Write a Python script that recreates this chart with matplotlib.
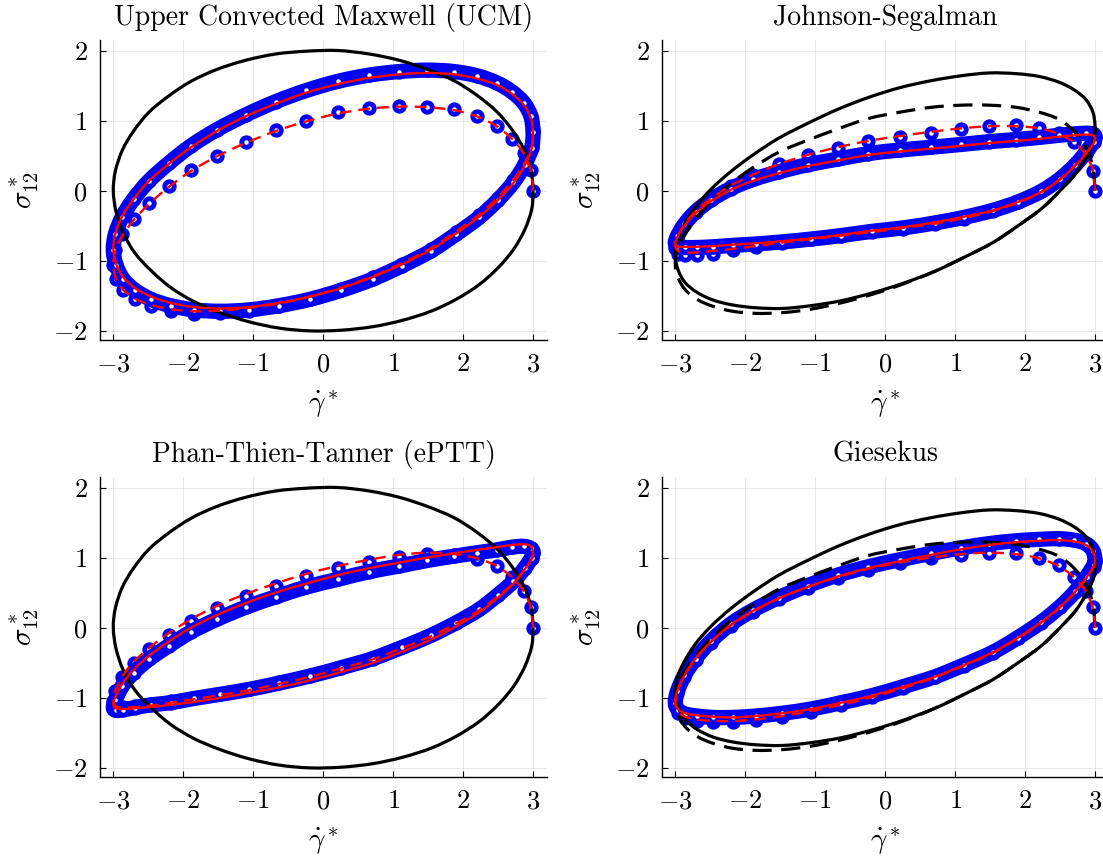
import matplotlib
matplotlib.use("Agg")
import matplotlib.pyplot as plt
from matplotlib.path import Path
from matplotlib.patches import PathPatch

plt.rcParams['font.family'] = 'serif'
plt.rcParams['font.serif'] = ['cmr10', 'DejaVu Serif']
plt.rcParams['mathtext.fontset'] = 'cm'
plt.rcParams['axes.formatter.use_mathtext'] = True
plt.rcParams['axes.unicode_minus'] = True

# strain-rate samples (one per marker, same grid for every series)
gamma_dot = [3.00, 2.97, 2.87, 2.70, 2.48, 2.20, 1.87, 1.49, 1.09, 0.66, 0.21, -0.24, -0.68, -1.11,
             -1.52, -1.89, -2.21, -2.49, -2.71, -2.87, -2.97, -3.00, -2.96, -2.86, -2.69, -2.46,
             -2.18, -1.85, -1.47, -1.06, -0.63, -0.19, 0.26, 0.71, 1.13, 1.54, 1.90, 2.23, 2.50,
             2.72, 2.88, 2.98, 3.00]

# reference curves (black)
newtonian = [0.00, 0.30, 0.59, 0.87, 1.13, 1.36, 1.57, 1.73, 1.86, 1.95, 2.00, 1.99, 1.95, 1.86, 1.73,
             1.56, 1.35, 1.12, 0.85, 0.58, 0.28, 0.00, -0.30, -0.60, -0.89, -1.14, -1.38, -1.58,
             -1.74, -1.87, -1.96, -2.00, -1.99, -1.94, -1.85, -1.72, -1.55, -1.34, -1.10, -0.84,
             -0.56, -0.27, 0.00]
ucm_ref = [0.92, 1.12, 1.30, 1.44, 1.55, 1.63, 1.67, 1.68, 1.64, 1.57, 1.47, 1.33, 1.16, 0.96, 0.75,
           0.51, 0.27, 0.02, -0.23, -0.48, -0.71, -0.93, -1.13, -1.31, -1.45, -1.56, -1.63, -1.67,
           -1.68, -1.64, -1.57, -1.46, -1.32, -1.15, -0.95, -0.74, -0.50, -0.26, 0.00, 0.24, 0.49,
           0.72, 0.92]
ucm_ref_start = [0.00, 0.33, 0.62, 0.85, 1.02, 1.12, 1.19, 1.22, 1.22, 1.19, 1.12, 1.03, 0.88, 0.72,
                 0.55, 0.33, 0.10, -0.15, -0.40, -0.63, -0.85, -1.05, -1.24, -1.41, -1.55, -1.65,
                 -1.72, -1.75, -1.74, -1.69, -1.60, -1.48, -1.33, -1.15, -0.95, -0.74, -0.50, -0.26,
                 0.00, 0.24, 0.49, 0.72, 0.92]

# Upper Convected Maxwell
ucm_data_start = [0.00, 0.29, 0.54, 0.74, 0.93, 1.07, 1.17, 1.20, 1.21, 1.18, 1.12, 1.00, 0.86, 0.70,
                  0.50, 0.29, 0.06, -0.18, -0.40, -0.62, -0.85, -1.06, -1.26, -1.42, -1.55, -1.65,
                  -1.72, -1.76, -1.75, -1.71, -1.64, -1.54, -1.40, -1.23, -1.04, -0.83, -0.59, -0.35,
                  -0.10, 0.15, 0.40, 0.64, 0.86]
ucm_data_cycle = [0.84, 1.06, 1.25, 1.41, 1.54, 1.64, 1.70, 1.72, 1.70, 1.65, 1.56, 1.43, 1.27, 1.08,
                  0.87, 0.64, 0.39, 0.14, -0.12, -0.37, -0.62, -0.85, -1.06, -1.26, -1.42, -1.55,
                  -1.64, -1.70, -1.72, -1.70, -1.64, -1.55, -1.42, -1.26, -1.07, -0.86, -0.62, -0.38,
                  -0.13, 0.12, 0.37, 0.61, 0.84]
ucm_fit_start = [0.00, 0.28, 0.53, 0.74, 0.92, 1.06, 1.15, 1.19, 1.20, 1.17, 1.10, 0.99, 0.85, 0.68,
                 0.49, 0.28, 0.05, -0.19, -0.42, -0.64, -0.86, -1.06, -1.25, -1.41, -1.54, -1.63,
                 -1.69, -1.72, -1.71, -1.67, -1.61, -1.51, -1.38, -1.22, -1.03, -0.82, -0.58, -0.34,
                 -0.09, 0.16, 0.40, 0.63, 0.84]
ucm_fit_cycle = [0.82, 1.03, 1.22, 1.38, 1.51, 1.60, 1.66, 1.68, 1.66, 1.61, 1.52, 1.40, 1.24, 1.06,
                 0.85, 0.62, 0.38, 0.14, -0.12, -0.36, -0.61, -0.83, -1.04, -1.23, -1.39, -1.51,
                 -1.60, -1.66, -1.68, -1.66, -1.60, -1.51, -1.39, -1.23, -1.05, -0.84, -0.61, -0.37,
                 -0.13, 0.11, 0.36, 0.60, 0.82]

# Johnson-Segalman
js_data_start = [0.00, 0.28, 0.52, 0.70, 0.82, 0.90, 0.94, 0.93, 0.88, 0.83, 0.77, 0.71, 0.61, 0.51,
                 0.38, 0.22, 0.07, -0.11, -0.30, -0.49, -0.68, -0.82, -0.90, -0.92, -0.92, -0.90,
                 -0.85, -0.80, -0.74, -0.69, -0.64, -0.59, -0.54, -0.48, -0.40, -0.29, -0.16, -0.01,
                 0.18, 0.38, 0.56, 0.70, 0.76]
js_data_cycle = [0.77, 0.81, 0.82, 0.81, 0.79, 0.76, 0.73, 0.70, 0.66, 0.62, 0.58, 0.53, 0.45, 0.37,
                 0.27, 0.16, 0.03, -0.13, -0.30, -0.48, -0.65, -0.75, -0.80, -0.81, -0.81, -0.80,
                 -0.78, -0.76, -0.73, -0.69, -0.64, -0.58, -0.53, -0.46, -0.38, -0.28, -0.16, -0.01,
                 0.17, 0.37, 0.56, 0.70, 0.77]
js_fit_start = [0.00, 0.28, 0.51, 0.69, 0.81, 0.89, 0.92, 0.92, 0.89, 0.84, 0.78, 0.71, 0.62, 0.51,
                0.38, 0.23, 0.07, -0.11, -0.29, -0.48, -0.66, -0.79, -0.86, -0.88, -0.88, -0.86,
                -0.83, -0.79, -0.74, -0.69, -0.64, -0.59, -0.53, -0.47, -0.39, -0.29, -0.17, -0.02,
                0.17, 0.37, 0.55, 0.69, 0.76]
js_fit_cycle = [0.75, 0.79, 0.80, 0.79, 0.77, 0.74, 0.71, 0.68, 0.64, 0.60, 0.56, 0.51, 0.43, 0.35,
                0.25, 0.14, 0.01, -0.15, -0.32, -0.50, -0.66, -0.76, -0.80, -0.80, -0.80, -0.79,
                -0.77, -0.75, -0.72, -0.68, -0.63, -0.57, -0.52, -0.45, -0.37, -0.28, -0.16, -0.02,
                0.16, 0.36, 0.54, 0.68, 0.75]

# Phan-Thien-Tanner (exponential)
eptt_data_start = [0.00, 0.29, 0.53, 0.73, 0.88, 0.98, 1.04, 1.05, 1.01, 0.94, 0.85, 0.74, 0.60, 0.45,
                   0.28, 0.09, -0.11, -0.31, -0.51, -0.71, -0.91, -1.05, -1.12, -1.13, -1.12, -1.09,
                   -1.05, -1.00, -0.94, -0.87, -0.78, -0.68, -0.56, -0.43, -0.27, -0.10, 0.08, 0.27,
                   0.47, 0.66, 0.85, 1.00, 1.07]
eptt_data_cycle = [1.08, 1.13, 1.16, 1.15, 1.11, 1.07, 1.02, 0.96, 0.88, 0.80, 0.69, 0.58, 0.44, 0.29,
                   0.12, -0.06, -0.26, -0.45, -0.64, -0.83, -1.03, -1.14, -1.18, -1.17, -1.14, -1.10,
                   -1.07, -1.01, -0.95, -0.88, -0.79, -0.69, -0.57, -0.44, -0.28, -0.11, 0.07, 0.26,
                   0.47, 0.66, 0.85, 1.00, 1.08]
eptt_fit_start = [0.00, 0.28, 0.52, 0.72, 0.88, 0.99, 1.05, 1.07, 1.04, 0.97, 0.88, 0.77, 0.63, 0.48,
                  0.31, 0.12, -0.08, -0.29, -0.49, -0.69, -0.89, -1.04, -1.12, -1.14, -1.13, -1.11,
                  -1.07, -1.02, -0.96, -0.89, -0.80, -0.70, -0.58, -0.45, -0.29, -0.12, 0.06, 0.25,
                  0.45, 0.64, 0.83, 0.98, 1.05]
eptt_fit_cycle = [1.05, 1.16, 1.19, 1.18, 1.15, 1.11, 1.06, 1.00, 0.93, 0.85, 0.75, 0.63, 0.50, 0.35,
                  0.18, 0.00, -0.20, -0.40, -0.60, -0.80, -0.99, -1.10, -1.15, -1.16, -1.15, -1.13,
                  -1.10, -1.06, -1.00, -0.93, -0.85, -0.75, -0.63, -0.50, -0.34, -0.17, 0.02, 0.22,
                  0.43, 0.63, 0.83, 0.98, 1.05]

# Giesekus
gie_data_start = [0.00, 0.29, 0.53, 0.72, 0.89, 1.00, 1.06, 1.07, 1.04, 0.99, 0.92, 0.83, 0.71, 0.57,
                  0.41, 0.22, 0.02, -0.22, -0.46, -0.70, -0.93, -1.10, -1.22, -1.29, -1.33, -1.35,
                  -1.35, -1.32, -1.27, -1.20, -1.10, -0.99, -0.86, -0.71, -0.54, -0.36, -0.15, 0.07,
                  0.29, 0.51, 0.71, 0.87, 0.94]
gie_data_cycle = [0.96, 1.10, 1.20, 1.25, 1.27, 1.26, 1.24, 1.20, 1.14, 1.06, 0.97, 0.87, 0.75, 0.60,
                  0.43, 0.25, 0.05, -0.19, -0.44, -0.68, -0.91, -1.07, -1.17, -1.23, -1.26, -1.28,
                  -1.28, -1.26, -1.22, -1.16, -1.07, -0.97, -0.84, -0.70, -0.53, -0.35, -0.14, 0.08,
                  0.30, 0.52, 0.73, 0.89, 0.96]
gie_fit_start = [0.00, 0.28, 0.52, 0.72, 0.88, 0.99, 1.05, 1.07, 1.05, 1.00, 0.93, 0.84, 0.72, 0.58,
                 0.42, 0.23, 0.03, -0.20, -0.44, -0.68, -0.91, -1.08, -1.20, -1.27, -1.31, -1.33,
                 -1.33, -1.31, -1.26, -1.19, -1.10, -0.99, -0.86, -0.71, -0.54, -0.36, -0.15, 0.07,
                 0.29, 0.51, 0.71, 0.87, 0.94]
gie_fit_cycle = [0.95, 1.08, 1.18, 1.23, 1.25, 1.24, 1.22, 1.18, 1.12, 1.04, 0.95, 0.85, 0.73, 0.58,
                 0.42, 0.24, 0.04, -0.20, -0.44, -0.68, -0.90, -1.06, -1.16, -1.22, -1.25, -1.27,
                 -1.28, -1.26, -1.22, -1.16, -1.07, -0.97, -0.84, -0.70, -0.53, -0.35, -0.14, 0.08,
                 0.30, 0.52, 0.72, 0.88, 0.95]

panels = [
    ("Upper Convected Maxwell (UCM)", ucm_data_start, ucm_data_cycle, newtonian, None, ucm_fit_start, ucm_fit_cycle),
    ("Johnson-Segalman", js_data_start, js_data_cycle, ucm_ref, ucm_ref_start, js_fit_start, js_fit_cycle),
    ("Phan-Thien-Tanner (ePTT)", eptt_data_start, eptt_data_cycle, newtonian, None, eptt_fit_start, eptt_fit_cycle),
    ("Giesekus", gie_data_start, gie_data_cycle, ucm_ref, ucm_ref_start, gie_fit_start, gie_fit_cycle),
]


def smooth(ax, x, y, closed, **kw):
    # draw a smooth curve through the points (cubic Bezier pieces, Catmull-Rom tangents)
    pts = list(zip(x, y))
    if closed:
        pts = pts[:-1]
        n = len(pts)
        get = lambda i: pts[i % n]
        segs = n
    else:
        n = len(pts)
        get = lambda i: pts[min(max(i, 0), n - 1)]
        segs = n - 1
    verts = [get(0)]
    codes = [Path.MOVETO]
    for i in range(segs):
        p0, p1, p2, p3 = get(i - 1), get(i), get(i + 1), get(i + 2)
        c1 = (p1[0] + (p2[0] - p0[0]) / 6, p1[1] + (p2[1] - p0[1]) / 6)
        c2 = (p2[0] - (p3[0] - p1[0]) / 6, p2[1] - (p3[1] - p1[1]) / 6)
        verts += [c1, c2, p2]
        codes += [Path.CURVE4] * 3
    patch = PathPatch(Path(verts, codes), fill=False, **kw)
    ax.add_patch(patch)
    return patch


fig = plt.figure(figsize=(11.03, 8.56), dpi=100)
W, H = 1103, 856
boxes = [(100, 40), (662, 40), (100, 477), (662, 477)]  # left, top in pixels
aw, ah = 447, 300

blue = (0.0, 0.0, 0.95)
mk = dict(marker='o', ms=6.8, mew=3.5, mfc='white', mec=blue, ls='none')

for (title, d_start, d_cycle, ref, ref_start, f_start, f_cycle), (l, t) in zip(panels, boxes):
    ax = fig.add_axes([l / W, 1 - (t + ah) / H, aw / W, ah / H])

    # measured data: start-up cycle, then the repeated periodic cycle (dense band)
    ax.plot(gamma_dot, d_start, zorder=2, **mk)
    smooth(ax, gamma_dot, d_cycle, True, edgecolor=blue, lw=11, joinstyle='round', zorder=2.1)
    ax.plot(gamma_dot[:-1], d_cycle[:-1], zorder=2.2, **mk)

    # reference model
    smooth(ax, gamma_dot, ref, True, edgecolor='black', lw=2.3, zorder=3)
    if ref_start is not None:
        smooth(ax, gamma_dot, ref_start, False, edgecolor='black', lw=2.3,
               linestyle=(0, (6, 3)), zorder=3)

    # fitted model
    smooth(ax, gamma_dot, f_start, False, edgecolor='red', lw=1.7, linestyle=(0, (5, 3)), zorder=4)
    smooth(ax, gamma_dot, f_cycle, True, edgecolor='red', lw=1.7, zorder=4)

    ax.set_xlim(-3.19, 3.2)
    ax.set_ylim(-2.13, 2.15)
    ax.set_xticks([-3, -2, -1, 0, 1, 2, 3])
    ax.set_yticks([-2, -1, 0, 1, 2])
    ax.grid(True, color='black', alpha=0.1, lw=0.6)
    ax.set_axisbelow(True)
    for s in ['top', 'right']:
        ax.spines[s].set_visible(False)
    for s in ['left', 'bottom']:
        ax.spines[s].set_linewidth(1.0)
    ax.tick_params(direction='in', length=4, width=0.8, labelsize=19, pad=9)
    ax.set_title(title, fontsize=20, pad=11)
    ax.set_xlabel(r'$\dot{\gamma}^*$', fontsize=21, labelpad=9)
    ax.set_ylabel(r'$\sigma^*_{12}$', fontsize=21, labelpad=9)

fig.savefig('out.png', dpi=100)
